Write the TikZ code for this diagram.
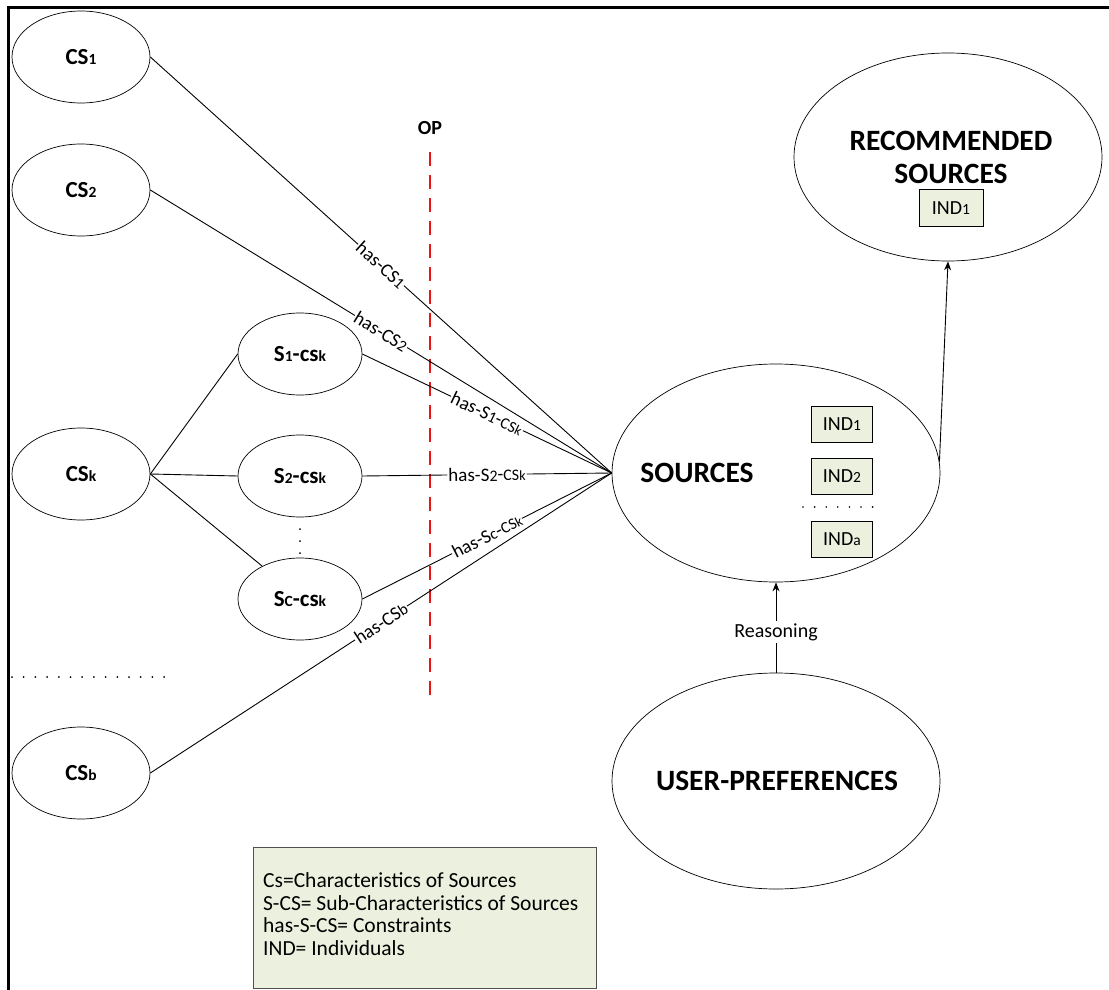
\documentclass[tikz,border=0pt]{standalone}
\usepackage{fontspec}
\setmainfont{Carlito}
\usetikzlibrary{shapes.geometric,arrows.meta}

\definecolor{indfill}{RGB}{235,241,222}
\definecolor{legendframe}{RGB}{80,80,80}
\definecolor{opred}{RGB}{235,20,20}

% small index placed on the baseline
\newcommand{\idx}[1]{{\fontsize{15.5}{15.5}\selectfont #1}}
\newcommand{\lidx}[1]{{\fontsize{14}{14}\selectfont #1}}
\newcommand{\ridx}[1]{{\fontsize{16}{16}\selectfont #1}}

\tikzset{
  csnode/.style={ellipse, draw, line width=0.7pt, minimum width=138pt, minimum height=92pt,
    inner sep=0pt, font=\fontsize{23}{23}\selectfont\bfseries},
  subnode/.style={ellipse, draw, line width=0.7pt, minimum width=124pt, minimum height=82pt,
    inner sep=0pt, font=\fontsize{23}{23}\selectfont\bfseries},
  bignode/.style={ellipse, draw, line width=0.7pt, inner sep=0pt},
  bigtext/.style={font=\fontsize{29.5}{33}\selectfont\bfseries, align=center, inner sep=0pt},
  indbox/.style={draw, line width=0.7pt, fill=indfill, minimum width=61pt, minimum height=36pt,
    inner sep=0pt, font=\fontsize{20}{20}\selectfont},
  link/.style={line width=0.9pt},
  rel/.style={sloped, midway, fill=white, inner sep=1pt, font=\fontsize{19}{19}\selectfont},
  arrow/.style={line width=0.9pt, -{Stealth[length=9pt,width=7pt]}},
  dotrow/.style={line width=2pt, line cap=round, dash pattern=on 0pt off 11.7pt},
}

\begin{document}
\begin{tikzpicture}[x=1pt,y=-1pt]
\useasboundingbox (0,0) rectangle (1109,990);

% frame
\draw[line width=3pt] (8,990) -- (8,8) -- (1109,8);

% characteristics
\node[csnode] (cs1) at (81,57) {CS\idx{1}};
\node[csnode] (cs2) at (81,190) {CS\idx{2}};
\node[csnode] (csk) at (81,474) {CS\idx{k}};
\node[csnode] (csb) at (81,773) {CS\idx{b}};

% sub-characteristics of CS_k
\node[subnode] (s1) at (300,354) {S\idx{1}-cs\idx{k}};
\node[subnode] (s2) at (300,476) {S\idx{2}-cs\idx{k}};
\node[subnode] (sc) at (300,599) {S\idx{C}-cs\idx{k}};

\draw[link] (csk.east) -- (s1.west);
\draw[link] (csk.east) -- (s2.west);
\draw[link] (csk.east) -- (sc.139);

\coordinate (vdA) at (300,529);
\coordinate (vdB) at (300,553.5);
\draw[line width=2pt, line cap=round, dash pattern=on 0pt off 12pt] (vdA) -- (vdB);

\coordinate (hdA) at (12,677);
\coordinate (hdB) at (165,677);
\draw[dotrow] (hdA) -- (hdB);

% sources
\node[bignode, minimum width=328pt, minimum height=218pt] (src) at (776,473) {};
\node[bigtext] (srctext) at (697,473) {SOURCES};
\node[indbox] (ind1) at (842,424) {IND\idx{1}};
\node[indbox] (ind2) at (842,476) {IND\idx{2}};
\node[indbox] (inda) at (842,539) {IND\idx{a}};
\coordinate (idA) at (803,507);
\coordinate (idB) at (874,507);
\draw[line width=1.8pt, line cap=round, dash pattern=on 0pt off 11.6pt] (idA) -- (idB);

% recommended sources
\node[bignode, minimum width=308pt, minimum height=208pt] (rec) at (948,157) {};
\node[bigtext] (rectext) at (951,157) {RECOMMENDED\\SOURCES};
\node[indbox, minimum width=64pt, minimum height=37pt] (recind) at (951,208) {IND\idx{1}};

% user preferences
\node[bignode, minimum width=328pt, minimum height=216pt] (user) at (776,781) {};
\node[bigtext] (usertext) at (777,781) {USER-PREFERENCES};

% object property boundary
\coordinate (opTop) at (430,152);
\coordinate (opBot) at (430,695);
\draw[opred, line width=2pt, dash pattern=on 14pt off 9pt] (opTop) -- (opBot);
\node[font=\fontsize{20}{20}\selectfont\bfseries] (op) at (430,128) {OP};

% constraints
\draw[link] (cs1.east) -- node[rel] {has-CS\ridx{1}} (src.west);
\draw[link] (cs2.east) -- node[rel] {has-CS\ridx{2}} (src.west);
\draw[link] (s1.east) -- node[rel] {has-S\ridx{1}-\ridx{CS}\lidx{k}} (src.west);
\draw[link] (s2.east) -- node[rel] {has-S\ridx{2}-\ridx{CS}\lidx{k}} (src.west);
\draw[link] (sc.east) -- node[rel] {has-S\ridx{c}-\ridx{CS}\lidx{k}} (src.west);
\draw[link] (csb.east) -- node[rel] {has-CS\ridx{b}} (src.west);

% reasoning
\draw[arrow] (user.north) -- node[pos=0.45, fill=white, inner sep=2pt, font=\fontsize{20}{20}\selectfont] (reason) {Reasoning} (src.south);
\draw[arrow] (src.4) -- (rec.south);

% legend
\node[draw=legendframe, line width=0.8pt, fill=indfill, anchor=north west,
  minimum width=343pt, minimum height=141pt] (legend) at (253,847) {};
\node[anchor=west, align=left, inner sep=0pt, font=\fontsize{21.5}{22.7}\selectfont] (legendtext) at (263,914)
  {Cs=Characteristics of Sources\\S-CS= Sub-Characteristics of Sources\\has-S-CS= Constraints\\IND= Individuals};
\end{tikzpicture}
\end{document}
